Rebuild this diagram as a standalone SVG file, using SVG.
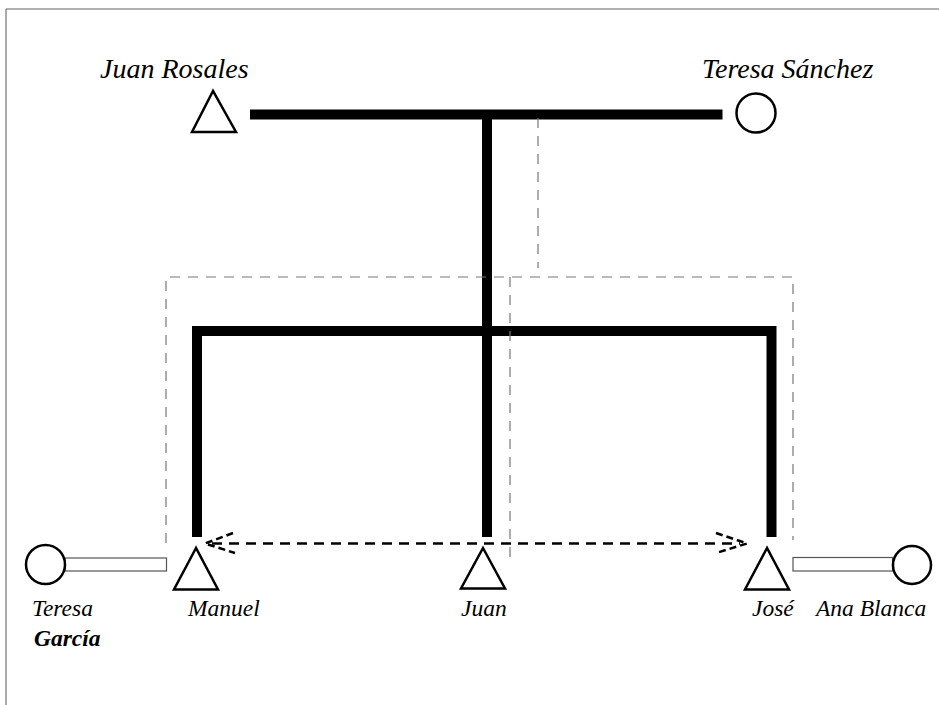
<svg xmlns="http://www.w3.org/2000/svg" width="939" height="705" viewBox="0 0 939 705">
<style>
  text { font-family: "Liberation Serif", "Times New Roman", serif; font-style: italic; fill: #000; }
  .big { font-size: 28px; }
  .lbl { font-size: 23.5px; }
  .bold { font-weight: bold; }
  .sym { fill: #fff; stroke: #000; stroke-width: 2.5; }
  .thick { fill: none; stroke: #000; stroke-width: 10; stroke-linejoin: miter; stroke-linecap: butt; }
  .guide { fill: none; stroke: #777; stroke-width: 1.2; stroke-dasharray: 10 8; }
  .arrow { fill: none; stroke: #000; stroke-width: 2.5; stroke-dasharray: 10 7; }
  .head { fill: none; stroke: #000; stroke-width: 2.5; stroke-dasharray: 7 4; }
  .marry { fill: #fff; stroke: #555; stroke-width: 1.2; }
  .frame { stroke: #999; stroke-width: 1.5; fill: none; }
</style>

<!-- page frame -->
<path class="frame" d="M6,9 H939"/>
<path d="M6,9 V705" stroke="#555" stroke-width="1" fill="none"/>

<g id="connectors">
  <!-- marriage bar and descent lines -->
  <path class="thick" d="M250,114.5 H722.5"/>
  <path class="thick" d="M487,114.5 V537"/>
  <path class="thick" d="M197,537 V331 H771.5 V537"/>
  <!-- dashed guide lines -->
  <path class="guide" d="M538,118 V268"/>
  <path class="guide" d="M166,543 V277 H793 V540"/>
  <path class="guide" d="M510,277 V565"/>
  <!-- spouse links -->
  <rect class="marry" x="65" y="558" width="101.5" height="13"/>
  <rect class="marry" x="793" y="557.5" width="99.5" height="13.5"/>
  <!-- sibling double arrow -->
  <path class="arrow" d="M212,543.5 H740"/>
  <path class="head" d="M233,533 L205,543.5 L235,553"/>
  <path class="head" d="M716,533 L747,543.5 L716,553"/>
</g>

<g id="juan-rosales">
  <polygon class="sym" points="213,91 192,132 236,132"/>
  <text class="big" x="100" y="78">Juan Rosales</text>
</g>

<g id="teresa-sanchez">
  <circle class="sym" cx="756" cy="113" r="19.5"/>
  <text class="big" x="702" y="78">Teresa Sánchez</text>
</g>

<g id="teresa-garcia">
  <circle class="sym" cx="45.5" cy="564.5" r="19.5"/>
  <text class="lbl" x="32" y="616">Teresa</text>
  <text class="lbl bold" x="34" y="646">García</text>
</g>

<g id="manuel">
  <polygon class="sym" points="196,548 174,589.5 218,589.5"/>
  <text class="lbl" x="188" y="616">Manuel</text>
</g>

<g id="juan">
  <polygon class="sym" points="483,548 461,588.5 505,588.5"/>
  <text class="lbl" x="461" y="616">Juan</text>
</g>

<g id="jose">
  <polygon class="sym" points="767,548 745,589.5 789,589.5"/>
  <text class="lbl" x="752" y="616">José</text>
</g>

<g id="ana-blanca">
  <circle class="sym" cx="912" cy="565" r="19"/>
  <text class="lbl" x="816" y="616">Ana Blanca</text>
</g>
</svg>
